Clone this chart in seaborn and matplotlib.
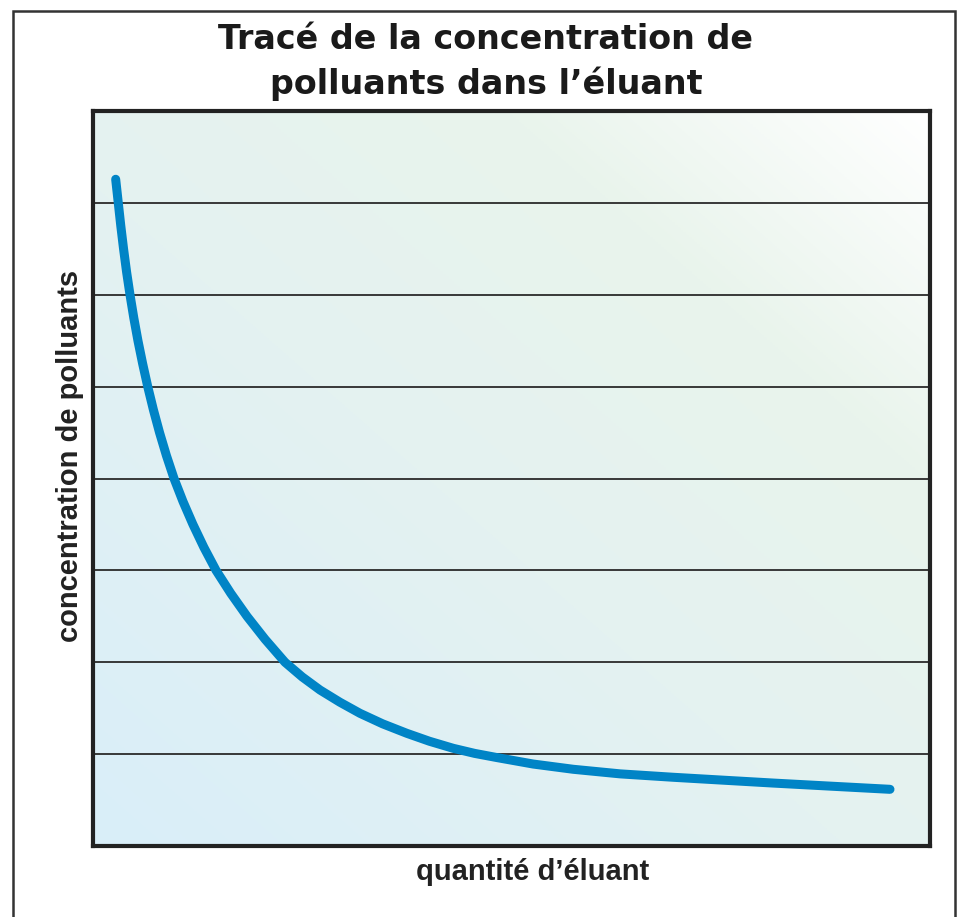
import numpy as np
import pandas as pd
import seaborn as sns
import matplotlib
matplotlib.use("Agg")
import matplotlib.pyplot as plt
from matplotlib.colors import LinearSegmentedColormap
from matplotlib.patches import Rectangle

# Data (arbitrary units)
eluant = [0.271, 0.302, 0.332, 0.365, 0.401, 0.442, 0.487, 0.537, 0.593, 0.654,
          0.721, 0.795, 0.877, 0.968, 1.075, 1.194, 1.325, 1.470, 1.646, 1.840,
          2.056, 2.294, 2.50, 2.712, 2.95, 3.190, 3.46, 3.748, 4.02, 4.305,
          4.56, 4.823, 5.26, 5.738, 6.30, 6.933, 7.50, 8.128, 8.80, 9.522]
concentration = [7.257, 7.00, 6.75, 6.50, 6.25, 6.00, 5.75, 5.50, 5.25, 5.00,
                 4.75, 4.50, 4.25, 4.00, 3.75, 3.50, 3.25, 3.00, 2.75, 2.50,
                 2.25, 2.00, 1.84, 1.698, 1.565, 1.444, 1.33, 1.227, 1.14, 1.063,
                 1.008, 0.963, 0.892, 0.835, 0.785, 0.748, 0.718, 0.685, 0.652, 0.617]
grid_levels = [1, 2, 3, 4, 5, 6, 7]

title = "Tracé de la concentration de\npolluants dans l’éluant"
xlabel = "quantité d’éluant"
ylabel = "concentration de polluants"

df = pd.DataFrame({"eluant": eluant, "concentration": concentration})

sns.set_theme(style="white")
plt.rcParams["font.family"] = ["Liberation Sans", "DejaVu Sans"]

fig = plt.figure(figsize=(9.6, 9.17), dpi=100)
ax = fig.add_axes([93 / 960, 71 / 917, 837 / 960, 735 / 917])
ax.set_xlim(0, 10)
ax.set_ylim(0, 8)

# gradient background
cmap = LinearSegmentedColormap.from_list(
    "bg", [(0.0, "#d9eef9"), (0.45, "#e4f2f1"), (0.75, "#e9f4ec"), (1.0, "#ffffff")])
gx, gy = np.meshgrid(np.linspace(0, 1, 300), np.linspace(0, 1, 300))
grad = (gx + gy) / 2
ax.imshow(grad, cmap=cmap, extent=[0, 10, 0, 8], origin="lower",
          aspect="auto", zorder=0, interpolation="bilinear")

for g in grid_levels:
    ax.axhline(g, color="#2a2a2a", lw=1.3, zorder=1)

sns.lineplot(data=df, x="eluant", y="concentration", ax=ax, color="#0084c6",
             lw=6.5, solid_capstyle="round", solid_joinstyle="round", zorder=3,
             sort=False)

ax.set_xticks([])
ax.set_yticks([])
for s in ax.spines.values():
    s.set_visible(True)
    s.set_color("#222222")
    s.set_linewidth(3)

ax.set_xlabel(xlabel, fontsize=21, fontweight="bold", color="#222222")
ax.xaxis.set_label_coords((533 - 93) / 837, -(872 - 846) / 735)
ax.xaxis.label.set_va("center")
ax.set_ylabel(ylabel, fontsize=21, fontweight="bold", color="#222222")
ax.yaxis.set_label_coords((70 - 93) / 837, (846 - 456) / 735)
ax.yaxis.label.set_va("center")

fig.text(486 / 960, 1 - 62 / 917, title, ha="center", va="center",
         fontsize=24, fontweight="bold", family=["DejaVu Sans"],
         color="#1a1a1a", linespacing=1.4)

# outer frame
fig.patches.append(Rectangle((12.5 / 960, -0.01), (954.5 - 12.5) / 960,
                             1 - 11.5 / 917 + 0.01, transform=fig.transFigure,
                             fill=False, edgecolor="#333333", lw=1.8))

fig.savefig("out.png", dpi=100)
